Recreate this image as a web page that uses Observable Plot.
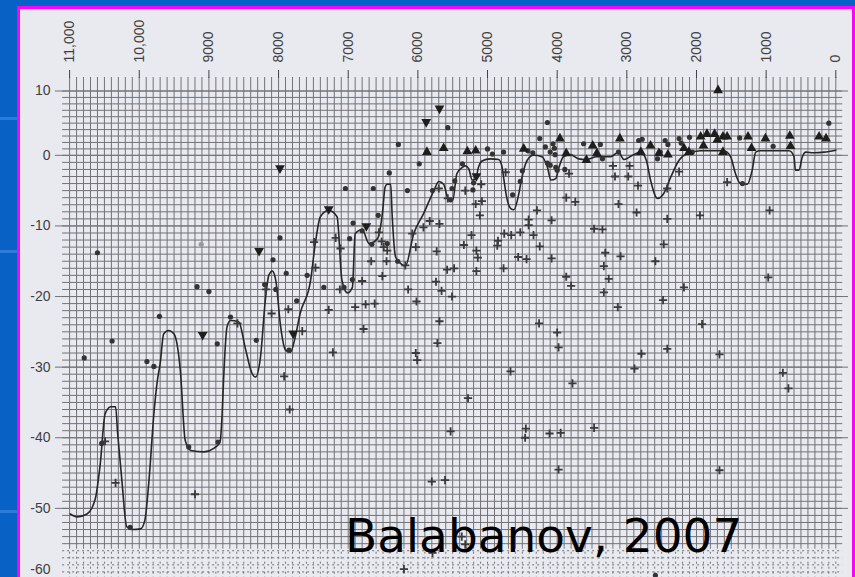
<!DOCTYPE html>
<html>
<head>
<meta charset="utf-8">
<script src="https://cdn.jsdelivr.net/npm/d3@7"></script>
<script src="https://cdn.jsdelivr.net/npm/@observablehq/plot@0.6"></script>
<style>
html,body{margin:0;padding:0;}
body{width:855px;height:577px;overflow:hidden;background:#0862c6;position:relative;}
#paper{position:absolute;left:17px;top:6px;width:832px;height:574px;border:3px solid #ff00ff;border-bottom:none;background:#e8eaf0;}
.stripe{position:absolute;left:0;width:17px;height:3px;background:#2c7bd8;}
#chart{position:absolute;left:0;top:0;}
#credit{position:absolute;left:345px;top:512px;font-family:"DejaVu Sans",sans-serif;font-size:47px;line-height:1;color:#000;white-space:nowrap;}
</style>
</head>
<body>
<div id="paper"></div>
<div class="stripe" style="top:117px"></div>
<div class="stripe" style="top:250px"></div>
<div class="stripe" style="top:510px"></div>
<div id="chart"></div>
<div id="credit">Balabanov, 2007</div>
<script>
// ---- tick labels ----
const xTicks = [11000,10000,9000,8000,7000,6000,5000,4000,3000,2000,1000,0];
const yTicks = [10,0,-10,-20,-30,-40,-50,-60];

// ---- smoothed curve (year BP, value) ----
const curve = [
[10990,-50.8],[10890,-51.2],[10750,-50.8],[10630,-48.6],[10560,-43.7],[10490,-36.6],[10410,-35.6],[10340,-35.6],[10310,-39.4],[10250,-46.0],[10180,-52.6],[10100,-53.0],[9980,-52.9],[9920,-51.7],[9860,-46.0],[9790,-36.6],[9740,-31.9],[9700,-29.5],[9650,-25.3],[9580,-24.8],[9500,-25.3],[9410,-30.5],[9340,-40.4],[9260,-41.8],[9070,-42.0],[8930,-41.5],[8840,-40.6],[8810,-36.6],[8790,-31.9],[8740,-24.3],[8690,-23.4],[8570,-23.6],[8480,-27.2],[8380,-30.9],[8330,-31.4],[8260,-28.6],[8190,-20.5],[8140,-17.0],[8090,-16.4],[8040,-17.7],[7970,-24.3],[7900,-27.6],[7830,-27.9],[7760,-25.7],[7690,-22.4],[7540,-17.7],[7470,-12.3],[7400,-8.7],[7280,-7.8],[7160,-8.7],[7090,-17.7],[7010,-19.5],[6940,-18.7],[6900,-11.1],[6800,-10.5],[6700,-12.5],[6580,-11.8],[6510,-8.3],[6470,-4.5],[6440,-4.1],[6390,-4.1],[6370,-8.3],[6320,-14.4],[6250,-15.3],[6180,-15.7],[6060,-11.1],[5920,-8.3],[5770,-5.0],[5700,-3.7],[5630,-4.1],[5560,-6.3],[5500,-6.4],[5440,-2.6],[5360,-1.7],[5320,-1.5],[5270,-1.9],[5220,-3.5],[5170,-3.3],[5130,-1.7],[5080,-0.8],[4960,-0.5],[4840,-0.6],[4790,-1.7],[4770,-3.1],[4730,-5.7],[4670,-7.5],[4620,-7.7],[4550,-5.4],[4520,-3.8],[4430,-0.7],[4340,0],[4220,-0.2],[4140,-1.7],[4090,-3.5],[4020,-3.3],[3980,-1.9],[3910,-0.2],[3810,0.1],[3690,-0.5],[3590,-0.6],[3430,-0.2],[3230,-0.2],[3120,0.5],[3040,-0.6],[2920,0],[2800,0.5],[2720,-0.7],[2660,-3.5],[2560,-6.1],[2470,-5.4],[2370,-3.1],[2250,-0.7],[2130,0.3],[1940,0.7],[1610,0.7],[1510,-0.2],[1440,-2.6],[1370,-4.0],[1270,-4.1],[1200,-2.1],[1150,0.5],[1080,0.7],[670,0.7],[600,-0.2],[580,-2.1],[530,-2.1],[480,-0.2],[430,0.5],[320,0.4],[170,0.5],[0,0.8]
];

// ---- filled circles ----
const circles = [
[10600,-13.8],[10790,-28.7],[10390,-26.3],[9710,-22.8],[9890,-29.2],[9790,-29.9],[9170,-18.6],[9000,-19.3],[8880,-26.7],[8690,-22.9],[8320,-26.2],[7980,-11.7],[8080,-14.8],[7890,-16.7],[8200,-18.3],[8040,-19.0],[7740,-20.6],[7850,-27.6],[7590,-17.0],[7350,-18.7],[7060,-18.7],[6930,-9.6],[6980,-11.8],[6940,-17.6],[6800,-10.7],[6660,-12.6],[6570,-8.5],[6440,-12.5],[6290,-15.0],[7040,-4.7],[6640,-4.7],[6150,-5.0],[6280,1.7],[6410,-2.5],[5980,-1.2],[5570,4.3],[5360,-1.2],[5000,1.0],[4930,0.2],[4770,0.5],[5790,-5.0],[5510,-4.7],[5530,-6.3],[5470,-3.6],[5200,-3.9],[5210,-4.9],[4640,-5.6],[4500,-2.2],[4530,-3.7],[4420,0.7],[4350,0.4],[4140,5.1],[4250,2.6],[4170,1.3],[4060,1.8],[4100,0.5],[4030,0.1],[4040,1.1],[4140,-1.1],[4100,-1.4],[4020,-1.7],[4000,-2.1],[3890,-2.0],[3620,1.8],[3380,1.7],[3350,-0.5],[3120,0.5],[2830,2.3],[2780,2.5],[2560,-0.5],[2520,0.5],[2450,2.3],[2410,1.7],[2250,2.6],[2220,1.9],[2100,2.8],[2060,0.5],[1380,2.7],[900,1.4],[100,5.0],[1340,-4.0],[10540,-40.8],[9290,-41.3],[8870,-40.6],[10130,-52.7],[2590,-59.5]
];
const faintCircles = [[9110,-12.6]];

// ---- triangles ----
const upTriangles = [
[5870,0.7],[5630,1.3],[5290,0.8],[5170,0.9],[4480,1.2],[3960,2.8],[3870,0.5],[3490,1.7],[3430,0.5],[3580,-0.5],[3100,2.8],[2800,0.7],[2660,1.7],[2540,0.5],[2410,0.3],[2180,1.3],[2110,0.7],[1940,3.1],[1850,3.5],[1740,3.5],[1700,2.6],[1620,3.1],[1560,3.1],[1900,1.7],[1620,0.7],[1260,3.1],[1210,1.3],[1010,2.8],[660,3.2],[650,1.6],[240,3.1],[140,2.8],[1690,10.3]
];
const downTriangles = [
[5880,5.0],[5690,7.1],[7980,-2.0],[8280,-13.7],[9090,-25.6],[7790,-25.4],[7280,-7.8],[6740,-10.2],[5160,-3.1]
];

// ---- crosses ----
const crosses = [
[8180,-19.0],[8100,-22.4],[7860,-21.8],[8590,-23.8],[7920,-31.3],[10490,-40.5],[10340,-46.4],[9200,-48.0],[7840,-36.0],
[7660,-24.9],[7490,-12.3],[7470,-15.9],[7280,-21.9],[7220,-27.9],[7180,-11.7],[7120,-19.0],[7110,-13.2],[6900,-21.5],[6800,-17.8],[6750,-21.1],[6620,-21.0],[6780,-24.6],[6670,-15.0],[6520,-12.2],[6510,-17.1],[6450,-15.0],[6490,-13.0],[6440,-13.5],[6560,-10.9],[6180,-15.6],[6140,-19.0],[6080,-11.1],[6030,-13.0],[6020,-20.7],[6030,-28.0],[6010,-29.0],[5920,-10.2],[5830,-9.3],[5690,-9.7],[5730,-13.6],[5740,-17.9],[5660,-19.2],[5510,-20.0],[5690,-23.5],[5720,-26.6],[5580,-16.2],[5480,-16.0],[5570,-6.1],[5320,-5.0],[5170,-6.9],[5080,-6.5],[5110,-8.5],[5230,-11.3],[5340,-12.7],[5160,-13.5],[5140,-14.5],[5160,-16.4],[4850,-12.1],[4860,-12.8],[4760,-11.1],[4660,-11.3],[4530,-10.9],[4410,-9.1],[4410,-9.9],[4290,-7.8],[4340,-11.3],[4250,-12.9],[4080,-9.2],[4560,-14.4],[4440,-14.7],[4080,-14.6],[4770,-16.0],[4260,-23.8],[4000,-25.1],[3980,-27.2],[4670,-30.6],[3870,-6.0],[3740,-6.6],[3870,-17.2],[3800,-18.5],
[4740,-2.4],[5090,-4.1],[5700,-4.7],[3830,-2.6],
[3200,-1.5],[2960,-1.5],[3170,-3.0],[2980,-3.0],[2840,-4.3],[2250,-2.3],[2420,-4.7],[1560,-3.8],
[3120,-6.9],[2860,-8.1],[2420,-9.0],[1950,-8.5],[950,-7.8],[3470,-10.4],[3350,-10.5],[3310,-13.8],[3090,-14.3],[3330,-15.7],[2470,-12.6],[2590,-15.0],[3260,-17.5],[3330,-19.4],[2180,-18.7],[3130,-21.5],[2480,-20.5],[970,-17.3],[1920,-23.9],[2420,-27.4],[2790,-28.1],[1670,-28.2],[2890,-30.2],[760,-30.8],
[5280,-34.4],[5530,-39.1],[4450,-38.7],[4460,-40.0],[4110,-39.4],[3950,-39.3],[3980,-44.5],[3780,-32.3],[5800,-46.2],[5610,-46.0],[5370,-54.0],[5320,-55.1],[5790,-56.3],[6200,-58.6],[3470,-38.6],[1670,-44.6],[680,-33.0]
];

// ---- graph-paper grid definition (in data units) ----
const gridColor = "#727277";
const hLinesSolid = d3.range(-55, 11, 1);
const hLinesDashed = d3.range(-60, -55, 1);
const hMajor = [10,0,-10,-20,-30,-40,-50];
const vLines = d3.range(0, 11001, 100);
const grid = {left: 11100, right: -100, majorLeft: 11203, majorRight: -182, top: 12.1, solidBottom: -55.5, bottom: -60.5};

// the printed paper is slightly compressed above zero
const upperSquash = 0.9108;
const yWarp = v => (v > 0 ? v * upperSquash : v);

const fmtYear = d => d >= 10000 ? d3.format(",")(d) : String(d);

const plusSym = {draw(ctx, size){const s = Math.sqrt(size) * 0.5; ctx.moveTo(-s, 0); ctx.lineTo(s, 0); ctx.moveTo(0, -s); ctx.lineTo(0, s);}};
const triUp = {draw(ctx, size){const s = Math.sqrt(size); ctx.moveTo(0, -s * 0.55); ctx.lineTo(s * 0.6, s * 0.5); ctx.lineTo(-s * 0.6, s * 0.5); ctx.closePath();}};
const triDown = {draw(ctx, size){const s = Math.sqrt(size); ctx.moveTo(0, s * 0.55); ctx.lineTo(s * 0.6, -s * 0.5); ctx.lineTo(-s * 0.6, -s * 0.5); ctx.closePath();}};

const X = d => d[0], Y = d => d[1];

const chart = Plot.plot({
  width: 855,
  height: 577,
  marginLeft: 55,
  marginTop: 77,
  marginRight: 20,
  marginBottom: 0,
  style: {background: "transparent", color: "#3f3f3f", fontFamily: "'Liberation Sans', Arial, sans-serif", fontSize: "14px", overflow: "visible"},
  x: {domain: [11000, 0], range: [69.1, 835.3]},
  y: {transform: yWarp, domain: [-60.5, yWarp(12.1)], range: [582, 77]},
  marks: [
    Plot.ruleY(hLinesSolid, {x1: grid.left, x2: grid.right, stroke: gridColor, strokeWidth: 1}),
    Plot.ruleY(hLinesDashed, {x1: grid.left, x2: grid.right, stroke: gridColor, strokeWidth: 1, strokeDasharray: "2,3"}),
    Plot.ruleY(hMajor, {x1: grid.majorLeft, x2: grid.majorRight, stroke: gridColor, strokeWidth: 1}),
    Plot.ruleX(vLines, {y1: grid.top, y2: grid.solidBottom, stroke: gridColor, strokeWidth: 1}),
    Plot.ruleX(vLines, {y1: grid.solidBottom, y2: grid.bottom, stroke: gridColor, strokeWidth: 1, strokeDasharray: "2,3"}),
    Plot.axisX(xTicks, {anchor: "top", tickRotate: -90, tickSize: 8, tickPadding: 7, tickFormat: fmtYear}),
    Plot.axisY(yTicks.slice(0, -1), {anchor: "left", tickSize: 0, tickPadding: 5, tickFormat: d => String(d)}),
    Plot.axisY(yTicks.slice(-1), {anchor: "left", tickSize: 0, tickPadding: 5, dy: -9, tickFormat: d => String(d)}),
    Plot.line(curve, {x: X, y: Y, curve: "monotone-x", stroke: "#262626", strokeWidth: 1.6}),
    Plot.dot(faintCircles, {x: X, y: Y, r: 2.6, fill: "#9a9a9a"}),
    Plot.dot(circles, {x: X, y: Y, r: 2.6, fill: "#333"}),
    Plot.dot(crosses, {x: X, y: Y, r: 4.6, symbol: plusSym, fill: "none", stroke: "#3a3a3a", strokeWidth: 1.8}),
    Plot.dot(upTriangles, {x: X, y: Y, r: 4.6, symbol: triUp, fill: "#1e1e1e", stroke: "none"}),
    Plot.dot(downTriangles, {x: X, y: Y, r: 4.6, symbol: triDown, fill: "#1e1e1e", stroke: "none"})
  ]
});
document.getElementById("chart").appendChild(chart);
</script>
</body>
</html>
